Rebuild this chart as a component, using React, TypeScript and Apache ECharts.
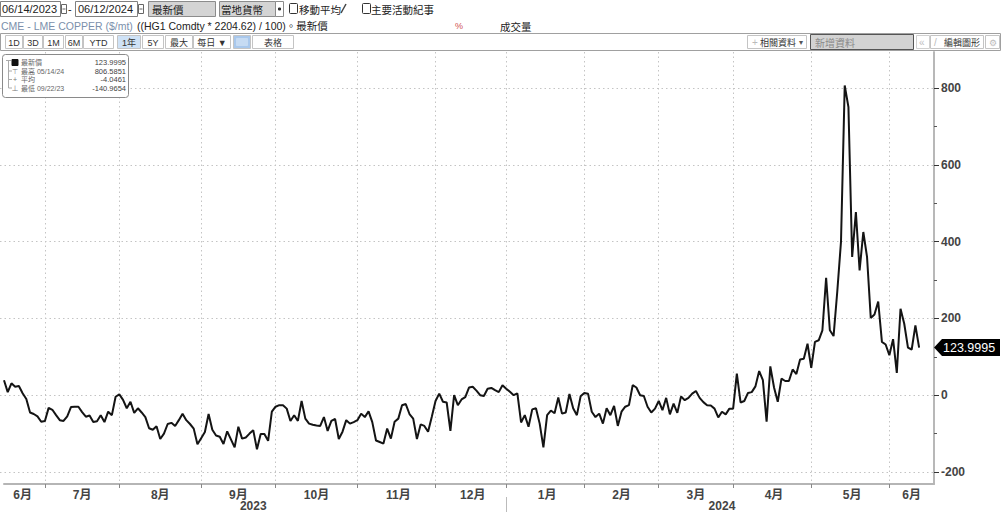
import React, { useEffect, useRef } from "react";
import * as echarts from "echarts";

// ---- data ----
const START = "2023-06-14";
const END = "2024-06-18"; // axis runs a few sessions past the last observation (06/12/2024)
const HOLIDAYS = [
  "2023-06-19", "2023-07-04", "2023-08-28", "2023-09-04", "2023-11-23",
  "2023-12-25", "2023-12-26", "2024-01-01", "2024-01-15", "2024-02-19",
  "2024-03-29", "2024-04-01", "2024-05-06", "2024-05-27",
];

// CME - LME copper spread ($/mt), one value per trading day from 06/14/2023 to 06/12/2024
const SPREAD = [
  39, 8, 31, 22, 24, 5, -10, -45, -49, -55,
  -69, -67, -33, -38, -52, -65, -67, -55, -31, -30,
  -30, -44, -56, -53, -70, -68, -52, -70, -43, -52,
  -4, 2, -12, -34, -17, -46, -34, -45, -57, -86,
  -90, -81, -114, -100, -75, -72, -80, -65, -48, -65,
  -75, -87, -128, -112, -96, -49, -90, -105, -108, -127,
  -94, -115, -136, -82, -113, -110, -100, -91, -140.9654, -101,
  -101, -119, -43, -30, -26, -26, -35, -67, -52, -67,
  -15, -61, -74, -77, -79, -80, -57, -93, -67, -62,
  -114, -95, -65, -74, -70, -65, -48, -57, -42, -70,
  -118, -122, -126, -87, -113, -69, -61, -26, -23, -49,
  -61, -114, -76, -80, -95, -56, -15, 4, -17, -19,
  -93, 0, -26, -11, -5, 20, 22, 12, 0, -2,
  17, 19, 13, 8, 26, 17, 9, 0, 5, -71,
  -52, -82, -37, -34, -74, -136, -52, -40, -47, -6,
  -48, -45, 3, -34, -52, -3, 6, 4, -43, -57,
  -48, -74, -34, -52, -28, -80, -43, -30, -26, 26,
  20, 0, -2, -30, -45, -35, -15, -39, -7, -50,
  -22, -46, -3, -13, -7, 4, 11, -7, -18, -26,
  -27, -35, -58, -43, -50, -35, -35, 56, -19, -15,
  6, 8, 23, 63, 39, -69, 75, 20, -17, 43,
  37, 37, 67, 55, 93, 95, 134, 71, 139, 143,
  169, 306, 169, 154, 270, 400, 806.5851, 750, 360, 477,
  325, 425, 360, 201, 210, 244, 139, 132, 104, 146,
  58, 225, 186, 124, 119, 182, 123.9995,
];

const MONTH_LABELS = ["6月", "7月", "8月", "9月", "10月", "11月", "12月", "1月", "2月", "3月", "4月", "5月", "6月"];
const YEAR_LABELS = ["2023", "2024"];
const Y_TICKS = [-200, 0, 200, 400, 600, 800];

const STAT_LABELS = ["最新價", "最高 05/14/24", "平均", "最低 09/22/23"];
const STAT_VALUES = ["123.9995", "806.5851", "-4.0461", "-140.9654"];

const PERIOD_BUTTONS = ["1D", "3D", "1M", "6M", "YTD", "1年", "5Y", "最大", "每日 ▼", "", "表格"];

// ---- derived categories ----
function tradingDays(): string[] {
  const out: string[] = [];
  const d = new Date(START + "T00:00:00Z");
  const end = new Date(END + "T00:00:00Z");
  while (d <= end) {
    const wd = d.getUTCDay();
    const s = d.toISOString().slice(0, 10);
    if (wd !== 0 && wd !== 6 && !HOLIDAYS.includes(s)) out.push(s);
    d.setUTCDate(d.getUTCDate() + 1);
  }
  return out;
}
const DATES = tradingDays();
const LAST = DATES.length - 1;

const monthFirst: number[] = [];
DATES.forEach((d, i) => {
  if (i === 0 || d.slice(0, 7) !== DATES[i - 1].slice(0, 7)) monthFirst.push(i);
});
const monthBoundary = monthFirst.slice(1).map((i) => i - 1);
const boundarySet = new Set(monthBoundary);
const mEdges = [-1, ...monthBoundary, LAST];
const monthLabelAt = new Map<number, string>();
monthFirst.forEach((_, m) => {
  monthLabelAt.set(Math.round((mEdges[m] + mEdges[m + 1]) / 2), MONTH_LABELS[m] ?? "");
});
const yearFirst = monthFirst.filter((i) => i === 0 || DATES[i].slice(0, 4) !== DATES[i - 1].slice(0, 4));
const yearBoundary = yearFirst.slice(1).map((i) => i - 1);
const yearBoundarySet = new Set(yearBoundary);
const yEdges = [-1, ...yearBoundary, LAST];
const yearLabelAt = new Map<number, string>();
YEAR_LABELS.forEach((y, k) => yearLabelAt.set(Math.round((yEdges[k] + yEdges[k + 1]) / 2), y));

// ---- styling helpers ----
const LAT = '"Liberation Sans", "Noto Sans CJK TC", sans-serif';
const CJK = '"Noto Sans CJK TC", "Noto Sans CJK SC", sans-serif';

type TOpt = { size?: number; fill?: string; family?: string; align?: string; weight?: string };
const txt = (x: number, y: number, text: string, o: TOpt = {}) => ({
  type: "text",
  x,
  y,
  z: 102,
  silent: true,
  style: {
    text,
    fill: o.fill ?? "#222",
    font: `${o.weight ?? "normal"} ${o.size ?? 11}px ${o.family ?? LAT}`,
    align: o.align ?? "left",
    verticalAlign: "middle",
  },
});
const box = (x: number, y: number, w: number, h: number, fill: string, stroke: string, r = 0) => ({
  type: "rect",
  z: 100,
  silent: true,
  shape: { x, y, width: w, height: h, r },
  style: { fill, stroke, lineWidth: 1 },
});
const seg = (x1: number, y1: number, x2: number, y2: number, stroke: string, lw = 1) => ({
  type: "line",
  z: 101,
  silent: true,
  shape: { x1, y1, x2, y2 },
  style: { stroke, lineWidth: lw },
});

function headerElements(): any[] {
  const els: any[] = [];
  // row 1
  els.push(box(0.5, 1.5, 60, 15, "#fff", "#808080"), txt(2, 9, "06/14/2023", { size: 11 }));
  els.push(box(61.5, 4.5, 5, 9, "#fff", "#666"), seg(62.5, 9, 65.5, 9, "#666"));
  els.push(txt(68, 9, "-"));
  els.push(box(75.5, 1.5, 62, 15, "#fff", "#808080"), txt(78, 9, "06/12/2024", { size: 11 }));
  els.push(box(138.5, 4.5, 5, 9, "#fff", "#666"), seg(139.5, 9, 142.5, 9, "#666"));
  els.push(box(148.5, 1.5, 67, 15, "#d4d4d4", "#8c8c8c"), txt(152, 9, "最新價", { size: 10.5, family: CJK }));
  els.push(box(219.5, 1.5, 56, 15, "#d4d4d4", "#8c8c8c"), txt(221, 9, "當地貨幣", { size: 10.5, family: CJK }));
  els.push(box(275.5, 1.5, 8, 15, "#fff", "#8c8c8c"), box(278.5, 8, 2, 2, "#333", "#333"));
  els.push(box(289.5, 3.5, 8, 10, "#fff", "#333", 1), txt(299, 9, "移動平均", { size: 10.5, family: CJK }));
  els.push(seg(341, 13, 346, 4, "#444", 1.5));
  els.push(box(362.5, 3.5, 8, 10, "#fff", "#333", 1), txt(371, 9, "主要活動紀事", { size: 10.5, family: CJK }));
  // row 2
  els.push(txt(1, 26, "CME - LME COPPER ($/mt)", { size: 10.5, fill: "#7b8fab" }));
  els.push(txt(137, 26, "((HG1 Comdty * 2204.62) / 100)。最新價", { size: 10.5 }));
  els.push(txt(455, 26, "%", { size: 9, fill: "#d0504f" }));
  els.push(txt(500, 26, "成交量", { size: 10.5, family: CJK }));
  // row 3
  els.push(box(0.5, 33.5, 1000, 17, "#fff", "#a0a0a0"));
  const bx = [5, 23, 43, 65, 83, 117, 142, 165, 193, 233, 252];
  const bw = [17, 19, 20, 17, 30, 23, 21, 27, 37, 17, 41];
  PERIOD_BUTTONS.forEach((label, k) => {
    const fill = label === "1年" ? "#cfe2f6" : label === "" ? "#a9c8ec" : "#fff";
    els.push(box(bx[k] + 0.5, 35.5, bw[k], 13, fill, "#c4c4c4"));
    if (label) els.push(txt(bx[k] + bw[k] / 2 + 0.5, 42.5, label, { size: 9, align: "center", fill: "#333" }));
  });
  els.push(box(236.5, 38.5, 11, 7, "#c6dbf3", "#c6dbf3"));
  els.push(box(747.5, 35.5, 59, 13, "#fff", "#c4c4c4"));
  els.push(txt(752, 42.5, "+", { size: 10, fill: "#bbb" }), txt(760, 42.5, "相關資料", { size: 9, family: CJK, fill: "#333" }));
  els.push(txt(799, 42.5, "▾", { size: 8, fill: "#555" }));
  els.push(box(810.5, 34.5, 103, 15, "#d3d3d3", "#555"));
  els.push(txt(815, 42.5, "新增資料", { size: 10, family: CJK, fill: "#8a8a8a" }));
  els.push(box(916.5, 35.5, 13, 13, "#fff", "#d0d0d0"), txt(919, 42.5, "«", { size: 10, fill: "#c0c0c0" }));
  els.push(box(930.5, 35.5, 53, 13, "#fff", "#c4c4c4"));
  els.push(txt(934, 42.5, "/", { size: 10, fill: "#bbb" }), txt(944, 42.5, "編輯圖形", { size: 9, family: CJK, fill: "#333" }));
  els.push(box(985.5, 35.5, 14, 13, "#fff", "#c4c4c4"), txt(992.5, 42.5, "⚙", { size: 9, align: "center", fill: "#bbb" }));
  return els;
}

function legendElements(): any[] {
  const els: any[] = [];
  els.push(box(2.5, 54.5, 126, 43, "#fff", "#8a8a8a", 3));
  const rows = [62.5, 71, 79.5, 88];
  els.push(seg(8.5, 60, 8.5, 88, "#aaa"));
  els.push(seg(6, 60.5, 11, 60.5, "#aaa"));
  rows.slice(1).forEach((y) => els.push(seg(8.5, y, 12, y, "#aaa")));
  els.push(box(12, 59.5, 6, 6, "#111", "#111"));
  els.push(txt(15, rows[1], "⊤", { size: 7, align: "center", fill: "#777" }));
  els.push(txt(15, rows[2], "+", { size: 7, align: "center", fill: "#777" }));
  els.push(txt(15, rows[3], "⊥", { size: 7, align: "center", fill: "#777" }));
  STAT_LABELS.forEach((l, k) => {
    els.push(txt(21, rows[k], l, { size: 7, fill: "#666" }));
    els.push(txt(126, rows[k], STAT_VALUES[k], { size: 7.5, fill: "#444", align: "right" }));
  });
  return els;
}

const AXIS_FONT = { fontFamily: LAT, fontSize: 12, fontWeight: "bold" as const, color: "#444" };
const DOTTED = { color: "#c4c4c4", type: [1.5, 3] as any, width: 1 };

export default function App() {
  const ref = useRef<HTMLDivElement>(null);
  useEffect(() => {
    const chart = echarts.init(ref.current!, null, { renderer: "svg" });
    const option: any = {
      animation: false,
      backgroundColor: "#fff",
      grid: [
        { left: 4, right: 67, top: 52, bottom: 28, containLabel: false, outerBoundsMode: "none" },
        { left: 0, right: 67, top: 88, bottom: 40, containLabel: false, outerBoundsMode: "none" },
      ],
      xAxis: [
        {
          type: "category",
          gridIndex: 0,
          data: DATES,
          boundaryGap: false,
          position: "bottom",
          axisLine: { show: true, onZero: false, lineStyle: { color: "#b5b5b5", width: 2 } },
          axisTick: { show: true, interval: (i: number) => boundarySet.has(i), length: 4, lineStyle: { color: "#888" } },
          axisLabel: {
            show: true,
            interval: (i: number) => monthLabelAt.has(i),
            formatter: (_v: string, i: number) => monthLabelAt.get(i) ?? "",
            margin: 5,
            ...AXIS_FONT,
          },
          splitLine: { show: true, interval: (i: number) => boundarySet.has(i), lineStyle: DOTTED },
        },
        {
          type: "category",
          gridIndex: 0,
          data: DATES,
          boundaryGap: false,
          position: "bottom",
          offset: 13,
          axisLine: { show: false, onZero: false },
          axisTick: {
            show: true,
            interval: (i: number) => yearBoundarySet.has(i),
            length: 15,
            lineStyle: { color: "#bbb" },
          },
          axisLabel: {
            show: true,
            interval: (i: number) => yearLabelAt.has(i),
            formatter: (_v: string, i: number) => yearLabelAt.get(i) ?? "",
            margin: 3,
            ...AXIS_FONT,
          },
          splitLine: { show: false },
        },
        { type: "value", gridIndex: 1, show: false, axisLine: { onZero: false } },
      ],
      yAxis: [
        {
          type: "value",
          gridIndex: 0,
          position: "right",
          min: -231.25,
          max: 893.75,
          axisLine: { show: true, onZero: false, lineStyle: { color: "#b8b8b8", width: 2 } },
          axisTick: { show: false },
          axisLabel: { show: false },
          splitLine: { show: false },
        },
        {
          type: "value",
          gridIndex: 1,
          position: "right",
          min: Y_TICKS[0],
          max: Y_TICKS[Y_TICKS.length - 1],
          interval: 200,
          axisLine: { show: false, onZero: false },
          axisTick: { show: true, length: 5, lineStyle: { color: "#333" } },
          minorTick: { show: true, splitNumber: 2, length: 3, lineStyle: { color: "#555" } },
          axisLabel: { show: true, margin: 7, ...AXIS_FONT },
          splitLine: { show: true, lineStyle: DOTTED },
        },
      ],
      series: [
        {
          type: "line",
          xAxisIndex: 0,
          yAxisIndex: 0,
          data: SPREAD,
          showSymbol: false,
          symbol: "none",
          lineStyle: { color: "#141414", width: 2 },
          z: 5,
        },
      ],
    };
    chart.setOption(option);

    const li = SPREAD.length - 1;
    const pt = chart.convertToPixel({ xAxisIndex: 0, yAxisIndex: 0 }, [li, SPREAD[li]]) as number[];
    const axisX = chart.convertToPixel({ xAxisIndex: 0 }, LAST) as number;
    const py = pt[1];
    const tag: any[] = [
      {
        type: "polygon",
        z: 101,
        silent: true,
        shape: {
          points: [
            [axisX, py],
            [axisX + 8, py - 8.5],
            [1000, py - 8.5],
            [1000, py + 8.5],
            [axisX + 8, py + 8.5],
          ],
        },
        style: { fill: "#000" },
      },
      txt(axisX + 9, py, SPREAD[li].toFixed(4), { size: 12.5, fill: "#fff" }),
    ];
    chart.setOption({ graphic: { elements: [...headerElements(), ...legendElements(), ...tag] } });
    return () => chart.dispose();
  }, []);
  return (
    <div
      ref={ref}
      style={{ position: "fixed", left: 0, top: 0, width: 1001, height: 512, background: "#fff" }}
    />
  );
}
